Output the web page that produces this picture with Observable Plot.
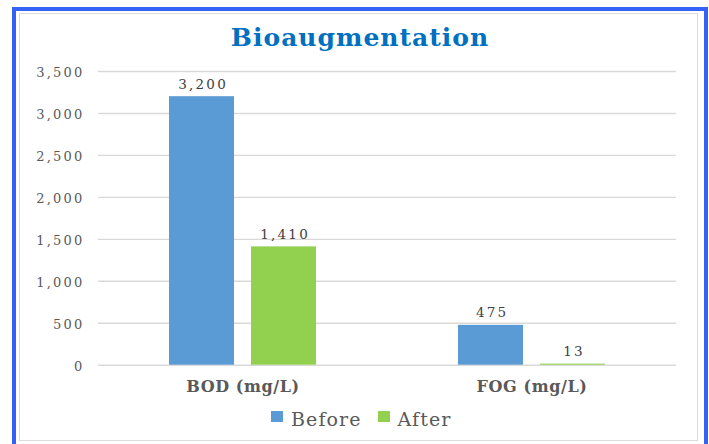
<!DOCTYPE html>
<html>
<head>
<meta charset="utf-8">
<script src="https://cdn.jsdelivr.net/npm/d3@7"></script>
<script src="https://cdn.jsdelivr.net/npm/@observablehq/plot@0.6"></script>
<style>
  html, body { margin: 0; padding: 0; background: #fff; }
  body { width: 709px; height: 444px; overflow: hidden; position: relative; font-family: "DejaVu Serif", serif; }
  #outer { position: absolute; left: 12px; top: 7px; width: 688px; height: 460px;
           border-left: 4px solid #3462F4; border-top: 4px solid #3462F4; border-right: 4px solid #3462F4; }
  #inner { position: absolute; left: 19px; top: 13px; width: 677px; height: 426px; border: 1.5px solid #dcdcdc; }
  #title { position: absolute; left: 0; top: 25px; width: 720px; text-align: center;
           font: bold 25px/25px "DejaVu Serif", serif; color: #0070C0; letter-spacing: 1px; }
  #chart { position: absolute; left: 0; top: 0; }
  #legend { position: absolute; left: 271px; top: 409.6px; font: 19px/19px "DejaVu Serif", serif; color: #595959;
            white-space: nowrap; letter-spacing: 1.1px; }
  #legend .item { display: inline-block; margin-right: 16px; }
  #legend .sw { display: inline-block; width: 12px; height: 11px; margin-right: 8px; margin-bottom: 3.4px; vertical-align: baseline; }
  g[aria-label="y-axis tick label"] text { letter-spacing: 2.2px; }
  g[aria-label="text"] text { letter-spacing: 2.2px; }
  g[aria-label="fx-axis tick label"] text { letter-spacing: 0.6px; }
</style>
</head>
<body>
<div id="outer"></div>
<div id="inner"></div>
<div id="title">Bioaugmentation</div>
<div id="chart"></div>
<div id="legend"></div>
<script>
const categories = ["BOD (mg/L)", "FOG (mg/L)"];
const series = ["Before", "After"];
const beforeValues = [3200, 475];
const afterValues = [1410, 13];
const seriesColors = ["#5B9BD5", "#92D050"];
const yTicks = [0, 500, 1000, 1500, 2000, 2500, 3000, 3500];

const data = categories.flatMap((c, i) => [
  {category: c, series: series[0], value: beforeValues[i]},
  {category: c, series: series[1], value: afterValues[i]}
]);
const fmt = d3.format(",");

const chart = Plot.plot({
  width: 709,
  height: 400,
  marginLeft: 98,
  marginRight: 32.3,
  marginTop: 71,
  marginBottom: 35.3,
  style: {background: "transparent", fontFamily: "DejaVu Serif, serif", overflow: "visible"},
  fx: {domain: categories, padding: 0, label: null},
  x: {domain: series, paddingInner: 0.21, paddingOuter: 0.863, axis: null},
  y: {domain: [0, 3500], label: null},
  color: {domain: series, range: seriesColors},
  marks: [
    Plot.gridY(yTicks, {stroke: "#d9d9d9", strokeOpacity: 1, strokeWidth: 1.4}),
    Plot.axisY(yTicks, {tickSize: 0, tickPadding: 14, tickFormat: fmt, fontSize: 13, fill: "#595959", label: null, dy: 1.5}),
    Plot.barY(data, {fx: "category", x: "series", y: "value", fill: "series"}),
    Plot.text(data, {fx: "category", x: "series", y: "value", text: d => fmt(d.value), dy: -8, dx: 1.1,
                     lineAnchor: "bottom", fill: "#404040", fontSize: 13.5}),
    Plot.axisFx({anchor: "bottom", tickSize: 0, tickPadding: 15.3, label: null, fontSize: 16,
                 fontWeight: "bold", fill: "#595959"})
  ]
});
document.getElementById("chart").appendChild(chart);

const color = chart.scale("color");
const legend = document.getElementById("legend");
series.forEach(s => {
  const item = document.createElement("span");
  item.className = "item";
  const sw = document.createElement("span");
  sw.className = "sw";
  sw.style.background = color.apply(s);
  item.appendChild(sw);
  item.appendChild(document.createTextNode(s));
  legend.appendChild(item);
});
</script>
</body>
</html>
